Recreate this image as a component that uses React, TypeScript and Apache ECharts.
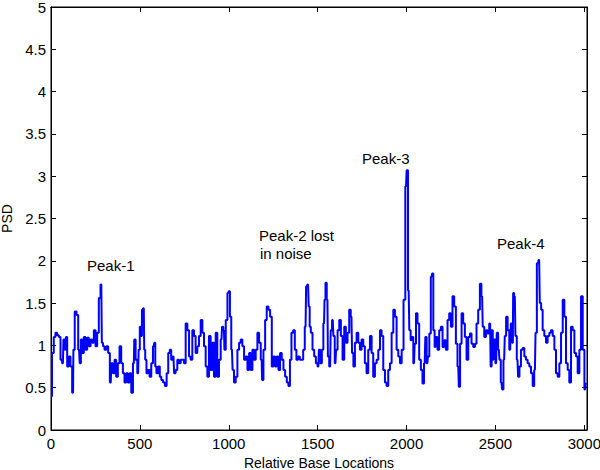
import React, { useEffect, useRef } from "react";
import * as echarts from "echarts";

// PSD trace, as [relative base location, PSD] points
const psdSeg1: number[][] = [
  [0, 0.4], [11, 0.91], [20, 1.1], [30, 1.15], [39, 1.12], [49, 1.1], [58, 0.83], [67, 0.79], [73, 1.07], [82, 0.95],
  [86, 1.1], [96, 0.75], [105, 0.87], [114, 0.75], [124, 0.44], [128, 0.95], [139, 1.4], [148, 1.36], [158, 0.95], [165, 0.79],
  [171, 1.07], [180, 0.91], [189, 1.1], [199, 0.95], [208, 1.09], [218, 0.99], [227, 1.07], [236, 1.03], [246, 1.18], [255, 0.99],
  [264, 1.15], [274, 1.56], [283, 1.72], [289, 1.03], [296, 0.99], [306, 0.95], [317, 0.99], [326, 0.91], [336, 0.56], [343, 0.79],
  [353, 0.67], [362, 0.83], [371, 0.63], [381, 0.79], [390, 0.99], [400, 0.79], [409, 0.67], [418, 0.56], [428, 0.67], [437, 0.56],
  [447, 0.67], [456, 0.44],
];
const psdSeg2: number[][] = [
  [466, 0.79], [471, 1.07], [481, 0.83], [490, 0.67], [496, 0.95], [503, 1.22], [509, 1.11], [514, 1.42], [522, 1.44], [527, 0.95],
  [533, 0.83], [541, 0.67], [550, 0.71], [559, 0.63], [569, 0.79], [578, 0.99], [584, 1.03], [589, 0.75], [597, 0.67], [608, 0.75],
  [616, 0.63], [625, 0.59], [636, 0.56], [646, 0.52], [655, 0.67], [664, 0.91], [672, 0.95], [680, 0.83], [689, 0.87], [696, 0.67],
  [706, 0.71], [715, 0.83], [725, 0.79], [734, 0.83], [743, 0.83], [753, 0.79], [762, 1.26], [772, 1.18], [781, 0.87], [790, 0.83],
  [800, 1.18], [809, 1.11], [818, 0.91], [828, 0.99], [837, 1.11], [847, 1.3], [856, 1.15], [865, 0.99], [875, 0.75], [884, 0.63],
  [893, 1.11], [903, 0.71], [912, 1.03], [922, 0.63], [931, 1.15], [940, 0.63], [950, 0.83],
];
const psdSeg3: number[][] = [
  [959, 1.07], [965, 1.22], [973, 1.18], [978, 0.95], [988, 1.3], [997, 1.62], [1003, 1.64], [1010, 1.34], [1018, 0.95], [1025, 0.71],
  [1034, 0.56], [1044, 0.63], [1053, 0.95], [1063, 1.03], [1072, 1.07], [1081, 0.99], [1091, 0.83], [1100, 0.87], [1110, 0.71], [1119, 0.91],
  [1128, 0.71], [1138, 0.95], [1147, 0.83], [1156, 0.95], [1166, 1.15], [1175, 1.03], [1185, 0.83], [1190, 0.59], [1200, 0.95], [1209, 1.3],
  [1218, 1.46], [1228, 1.42], [1237, 1.34], [1247, 0.75], [1256, 0.87], [1265, 0.75], [1275, 0.87], [1284, 0.71], [1293, 0.91], [1303, 0.83],
  [1312, 0.71], [1322, 0.63], [1331, 0.56], [1340, 0.52], [1348, 0.83], [1357, 1.15], [1367, 1.18], [1376, 0.95], [1385, 0.83], [1395, 0.87],
  [1404, 0.83], [1414, 0.83], [1423, 0.95], [1432, 1.22], [1438, 1.7], [1446, 1.72], [1453, 1.46],
];
const psdSeg4: number[][] = [
  [1457, 1.22], [1466, 1.15], [1476, 0.95], [1485, 0.87], [1495, 0.79], [1504, 0.75], [1510, 0.95], [1519, 0.79], [1528, 0.95], [1536, 1.26],
  [1541, 1.54], [1547, 1.74], [1555, 1.54], [1560, 0.87], [1570, 0.75], [1577, 1.18], [1585, 1.3], [1592, 1.11], [1600, 0.79], [1607, 0.95],
  [1617, 1.18], [1626, 1.3], [1635, 1.11], [1645, 0.83], [1654, 1.22], [1663, 1.03], [1673, 1.15], [1682, 1.42], [1690, 1.34], [1697, 0.91],
  [1705, 0.75], [1714, 1.03], [1724, 1.15], [1733, 1.03], [1742, 0.95], [1752, 1.07], [1761, 0.99], [1770, 0.79], [1780, 0.67], [1789, 0.95],
  [1799, 1.11], [1808, 0.91], [1817, 0.63], [1827, 0.79], [1836, 0.83], [1846, 0.95], [1855, 1.18], [1864, 1.11], [1874, 0.71], [1883, 0.56],
  [1892, 0.52], [1902, 0.71], [1911, 0.79], [1921, 1.15], [1930, 1.42], [1939, 1.34], [1949, 0.95], [1958, 0.87], [1968, 0.79], [1977, 0.95],
];
const psdSeg5: number[][] = [
  [1989, 1.54], [1997, 2.88], [2004, 3.07], [2012, 1.65], [2019, 1.18], [2027, 1.06], [2034, 1.1], [2042, 0.79], [2049, 1.02], [2057, 1.38],
  [2066, 1.26], [2076, 0.83], [2085, 0.71], [2094, 0.55], [2102, 0.79], [2109, 1.1], [2117, 0.79], [2124, 0.87], [2132, 1.14], [2141, 1.81],
  [2147, 1.85], [2154, 1.18], [2162, 0.98], [2169, 1.1], [2179, 0.95], [2188, 1.18], [2198, 1.22], [2207, 0.98], [2216, 1.06], [2226, 0.95],
  [2235, 1.3], [2245, 1.38], [2254, 1.22], [2263, 1.58], [2273, 1.46], [2282, 1.02], [2291, 0.75], [2297, 0.51], [2305, 1.02], [2314, 1.38],
  [2323, 1.26], [2333, 1.1], [2342, 0.83], [2352, 1.1], [2361, 1.14], [2370, 1.02], [2380, 0.98], [2389, 1.02], [2398, 1.26], [2408, 1.42],
  [2417, 1.73], [2425, 1.58], [2432, 1.22], [2442, 1.1], [2451, 1.18], [2460, 1.14],
];
const psdSeg6: number[][] = [
  [2470, 1.26], [2476, 0.75], [2481, 1.18], [2489, 0.83], [2496, 1.07], [2504, 0.79], [2511, 1.15], [2519, 0.95], [2526, 0.83], [2534, 0.56],
  [2541, 0.48], [2549, 0.83], [2556, 1.11], [2564, 1.34], [2573, 1.18], [2583, 0.95], [2590, 1.26], [2598, 1.03], [2601, 1.62], [2609, 1.58],
  [2616, 1.11], [2624, 0.83], [2631, 0.63], [2639, 0.75], [2648, 0.95], [2658, 0.97], [2667, 0.87], [2676, 0.83], [2686, 0.79], [2695, 0.75],
  [2705, 0.67], [2714, 0.52], [2722, 0.71], [2729, 1.15], [2737, 1.97], [2746, 2.01], [2753, 1.5], [2761, 1.42], [2770, 1.18], [2780, 1.11],
  [2789, 1.03], [2798, 1.11], [2808, 1.15], [2817, 1.18], [2827, 1.11], [2836, 0.95], [2845, 0.67], [2855, 0.63], [2864, 0.79], [2874, 1.15],
  [2883, 1.54], [2892, 1.34], [2902, 0.79], [2911, 0.71], [2920, 0.56], [2930, 1.22], [2939, 1.18], [2949, 0.91], [2958, 0.87], [2967, 0.67],
  [2977, 0.95], [2986, 1.58], [2996, 0.95], [3005, 0.48], [3011, 0.56],
];

const xMin = 0;
const xMax = 3015;
const xInterval = 500;
const yMin = 0;
const yMax = 5;
const yInterval = 0.5;

const annotations = [
  { text: "Peak-1", x: 87, y: 265 },
  { text: "Peak-2 lost", x: 259, y: 235 },
  { text: "in noise", x: 260, y: 253 },
  { text: "Peak-3", x: 362, y: 158 },
  { text: "Peak-4", x: 497, y: 243 },
];

const FONT = "'Liberation Sans', Arial, Helvetica, sans-serif";

export default function App() {
  const ref = useRef<HTMLDivElement>(null);
  useEffect(() => {
    if (!ref.current) return;
    const chart = echarts.init(ref.current, null, { renderer: "svg" });
    const data = [...psdSeg1, ...psdSeg2, ...psdSeg3, ...psdSeg4, ...psdSeg5, ...psdSeg6];
    const axisLine = { show: true, onZero: false, lineStyle: { color: "#000", width: 1 } };
    const axisTick = { show: true, inside: true, length: 5, lineStyle: { color: "#000", width: 1 } };
    const labelStyle = { color: "#000", fontSize: 15, fontFamily: FONT };
    const nameStyle = { color: "#000", fontSize: 14, fontFamily: FONT };
    chart.setOption({
      animation: false,
      backgroundColor: "#ffffff",
      grid: {
        left: 51,
        right: 13,
        top: 7,
        bottom: 40,
        outerBoundsMode: "none",
        containLabel: false,
        show: true,
        borderColor: "#000",
        borderWidth: 1,
        backgroundColor: "transparent",
      },
      xAxis: [
        {
          type: "value",
          min: xMin,
          max: xMax,
          interval: xInterval,
          position: "bottom",
          name: "Relative Base Locations",
          nameLocation: "middle",
          nameGap: 22,
          nameTextStyle: nameStyle,
          axisLine,
          axisTick,
          axisLabel: {
            ...labelStyle,
            margin: 6,
            showMaxLabel: true,
            formatter: (v: number) => (v % xInterval === 0 ? String(v) : ""),
          },
          splitLine: { show: false },
        },
        {
          type: "value",
          min: xMin,
          max: xMax,
          interval: xInterval,
          position: "top",
          axisLine,
          axisTick,
          axisLabel: { show: false },
          splitLine: { show: false },
        },
      ],
      yAxis: [
        {
          type: "value",
          min: yMin,
          max: yMax,
          interval: yInterval,
          position: "left",
          name: "PSD",
          nameLocation: "middle",
          nameGap: 34,
          nameTextStyle: nameStyle,
          axisLine,
          axisTick,
          axisLabel: { ...labelStyle, margin: 5 },
          splitLine: { show: false },
        },
        {
          type: "value",
          min: yMin,
          max: yMax,
          interval: yInterval,
          position: "right",
          axisLine,
          axisTick,
          axisLabel: { show: false },
          splitLine: { show: false },
        },
      ],
      series: [
        {
          type: "line",
          xAxisIndex: 0,
          yAxisIndex: 0,
          data,
          step: "middle",
          symbol: "none",
          showSymbol: false,
          lineStyle: { color: "#0000ff", width: 2 },
          itemStyle: { color: "#0000ff" },
          z: 3,
        },
      ],
      graphic: annotations.map((a) => ({
        type: "text",
        x: a.x,
        y: a.y,
        z: 10,
        style: {
          text: a.text,
          fill: "#000",
          fontSize: 15,
          fontFamily: FONT,
          align: "left",
          verticalAlign: "middle",
        },
      })),
    });
    return () => chart.dispose();
  }, []);
  return (
    <div
      ref={ref}
      style={{ position: "fixed", left: 0, top: 0, width: 600, height: 470, background: "#fff" }}
    />
  );
}
